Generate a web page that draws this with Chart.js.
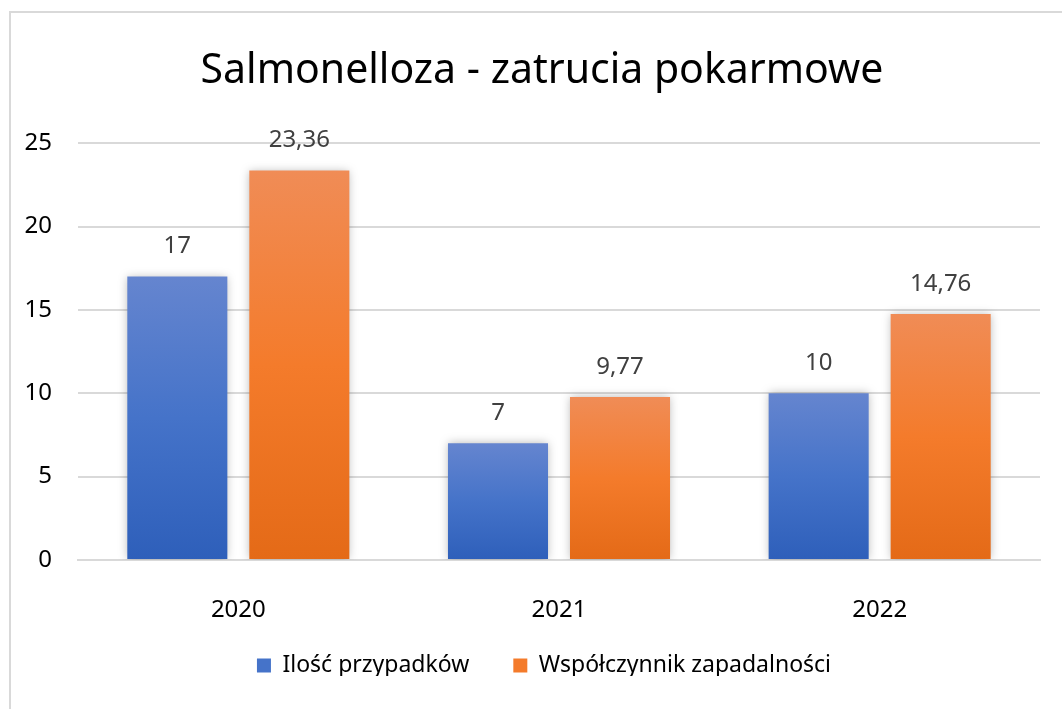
<!DOCTYPE html>
<html>
<head>
<meta charset="utf-8">
<script src="https://cdn.jsdelivr.net/npm/chart.js@4.4.1/dist/chart.umd.min.js"></script>
<style>
  html, body { margin: 0; padding: 0; background: #fff; }
  #frame { position: absolute; left: 9px; top: 11px; width: 1100px; height: 720px; border: 2px solid #d9d9d9; box-sizing: border-box; }
  #wrap { position: absolute; left: 0; top: 0; width: 1062px; height: 709px; }
</style>
</head>
<body>
<div id="frame"></div>
<div id="wrap"><canvas id="chart" width="1062" height="709"></canvas></div>
<script>
// chart data
const years = ['2020', '2021', '2022'];
const cases = [17, 7, 10];
const incidence = [23.36, 9.77, 14.76];
const seriesNames = ['Ilość przypadków', 'Współczynnik zapadalności'];
const yTicks = [0, 5, 10, 15, 20, 25];

const FONT = "'Noto Sans', 'Open Sans', sans-serif";

// vertical gradient per bar, lighter at the top
function barGradient(top, mid, bottom) {
    return function (context) {
        const chart = context.chart;
        if (!chart.chartArea || context.parsed === undefined) return mid;
        const yScale = chart.scales.y;
        const yTop = yScale.getPixelForValue(context.parsed.y);
        const yBase = yScale.getPixelForValue(0);
        const g = chart.ctx.createLinearGradient(0, yTop, 0, yBase);
        g.addColorStop(0, top);
        g.addColorStop(0.5, mid);
        g.addColorStop(1, bottom);
        return g;
    };
}

// soft shadow behind the bars
const shadowPlugin = {
    id: 'barShadow',
    beforeDatasetDraw(chart) {
        const ctx = chart.ctx;
        ctx.save();
        ctx.shadowColor = 'rgba(0,0,0,0.28)';
        ctx.shadowBlur = 9;
    },
    afterDatasetDraw(chart) {
        chart.ctx.restore();
    }
};

// value labels above bars, with decimal comma
const valueLabels = {
    id: 'valueLabels',
    afterDatasetsDraw(chart) {
        const ctx = chart.ctx;
        ctx.save();
        ctx.font = '24px ' + FONT;
        ctx.fillStyle = '#404040';
        ctx.textAlign = 'center';
        ctx.textBaseline = 'middle';
        chart.data.datasets.forEach((ds, i) => {
            chart.getDatasetMeta(i).data.forEach((bar, j) => {
                const txt = String(ds.data[j]).replace('.', ',');
                ctx.fillText(txt, bar.x, bar.y - 30);
            });
        });
        ctx.restore();
    }
};

// legend: wide item spacing but a short box, placed under the year labels
// title and legend are centred on the whole frame, not the plot
const boxPlace = {
    id: 'boxPlace',
    afterInit(chart) {
        const lg = chart.legend;
        const fit = lg.fit;
        lg.fit = function () { fit.call(this); this.height = 66; };
    },
    afterLayout(chart) {
        const lg = chart.legend;
        lg.top = 610;
        lg.bottom = 676;
        lg.left += 24;
        lg.right += 24;
        const tb = chart.titleBlock;
        tb.left += 22;
        tb.right += 22;
    }
};

const ctx = document.getElementById('chart').getContext('2d');
const chart = new Chart(ctx, {
    type: 'bar',
    data: {
        labels: years,
        datasets: [{
            label: seriesNames[0],
            data: cases,
            backgroundColor: barGradient('#6585cf', '#4573c9', '#2e5fba'),
            categoryPercentage: 0.761,
            barPercentage: 0.82
        }, {
            label: seriesNames[1],
            data: incidence,
            backgroundColor: barGradient('#f08c56', '#f47b2b', '#e46a17'),
            categoryPercentage: 0.761,
            barPercentage: 0.82
        }]
    },
    options: {
        responsive: false,
        animation: false,
        layout: { padding: { left: 0, right: 22, top: 0, bottom: 0 } },
        plugins: {
            title: {
                display: true,
                text: 'Salmonelloza - zatrucia pokarmowe',
                color: '#000',
                font: { family: FONT, size: 41, weight: 'normal' },
                padding: { top: 47, bottom: 47 }
            },
            legend: {
                position: 'bottom',
                labels: {
                    color: '#000',
                    font: { family: FONT, size: 23 },
                    boxWidth: 14,
                    boxHeight: 14,
                    padding: 44,
                    generateLabels(chart) {
                        const solid = ['#4573c9', '#f47b2b'];
                        return chart.data.datasets.map((ds, i) => ({
                            text: ds.label,
                            fillStyle: solid[i],
                            strokeStyle: solid[i],
                            lineWidth: 0,
                            datasetIndex: i
                        }));
                    }
                }
            },
            tooltip: { enabled: false }
        },
        scales: {
            x: {
                grid: { display: false },
                border: { display: true, color: '#d9d9d9', width: 2 },
                ticks: { color: '#000', font: { family: FONT, size: 24 }, padding: 28 },
                afterFit(scale) { scale.height = 83; }
            },
            y: {
                min: 0,
                max: 25,
                afterBuildTicks(scale) { scale.ticks = yTicks.map(v => ({ value: v })); },
                grid: { color: '#d9d9d9', lineWidth: 2, drawTicks: false },
                border: { display: false },
                ticks: { color: '#000', font: { family: FONT, size: 24 }, padding: 26 },
                afterFit(scale) { scale.width = 78; }
            }
        }
    },
    plugins: [shadowPlugin, valueLabels, boxPlace]
});
chart.update();
</script>
</body>
</html>
